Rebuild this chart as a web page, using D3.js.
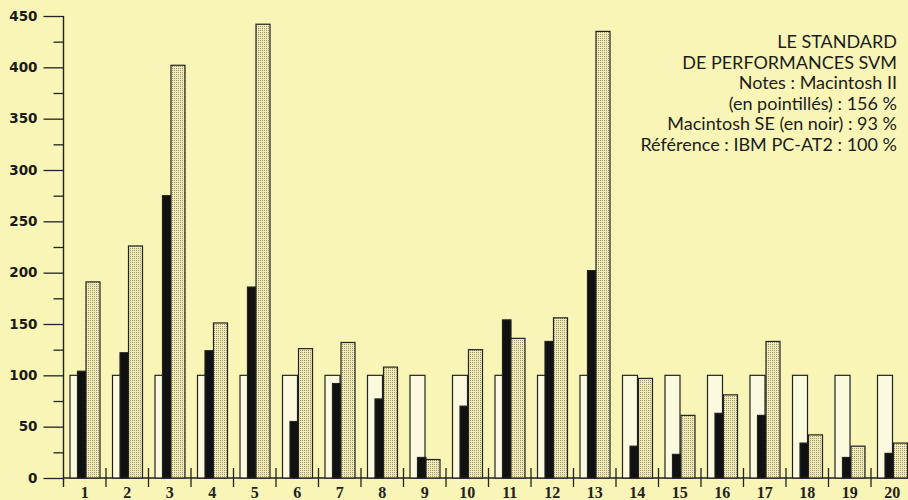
<!DOCTYPE html>
<html>
<head>
<meta charset="utf-8">
<script src="https://cdn.jsdelivr.net/npm/d3@7"></script>
<style>
  body { margin: 0; background: #f8f5b6; }
  svg { display: block; }
</style>
</head>
<body>
<div id="chart"></div>
<script>
const tests = d3.range(1, 21);
const reference = [100, 100, 100, 100, 100, 100, 100, 100, 100, 100, 100, 100, 100, 100, 100, 100, 100, 100, 100, 100];
const macSE = [104, 122, 275, 124, 186, 55, 92, 77, 20, 70, 154, 133, 202, 31, 23, 63, 61, 34, 20, 24];
const macII = [191, 226, 402, 151, 442, 126, 132, 108, 18, 125, 136, 156, 435, 97, 61, 81, 133, 42, 31, 34];
const yTicks = [0, 50, 100, 150, 200, 250, 300, 350, 400, 450];
const notes = [
  'LE STANDARD',
  'DE PERFORMANCES SVM',
  'Notes : Macintosh II',
  '(en pointillés) : 156 %',
  'Macintosh SE (en noir) : 93 %',
  'Référence : IBM PC-AT2 : 100 %'
];

const width = 908;
const height = 500;

const svg = d3.select('#chart')
              .append('svg')
              .attr('width', width)
              .attr('height', height);

svg.append('rect')
   .attr('width', width)
   .attr('height', height)
   .attr('fill', '#f8f5b6');

// dotted fill for the Macintosh II bars
const pat = svg.append('defs')
               .append('pattern')
               .attr('id', 'dots')
               .attr('width', 2)
               .attr('height', 2)
               .attr('patternUnits', 'userSpaceOnUse');
pat.append('rect').attr('width', 2).attr('height', 2).attr('fill', '#f1ecb6');
pat.append('rect').attr('width', 1).attr('height', 1).attr('fill', '#9c9370');

const xScale = d3.scaleBand()
                 .domain(tests)
                 .range([63.5, 913.5])
                 .padding(0);

const yScale = d3.scaleLinear()
                 .domain([0, 450])
                 .range([478, 16]);

const ink = '#222';

// y axis: long ticks every 50, short every 25
const yAxis = d3.axisLeft(yScale)
                .tickValues(yTicks)
                .tickSize(20)
                .tickPadding(6)
                .tickFormat(d3.format('d'));

const gy = svg.append('g')
              .attr('transform', 'translate(63.5, 0)')
              .call(yAxis);
gy.select('.domain').remove();
gy.selectAll('.tick line').attr('stroke', ink).attr('stroke-width', 1.3);
gy.selectAll('.tick text')
  .attr('fill', '#1a1a1a')
  .attr('font-family', 'DejaVu Sans')
  .attr('font-weight', 'bold')
  .attr('font-size', 13.5);

const yMinor = d3.axisLeft(yScale)
                 .tickValues(d3.range(25, 450, 50))
                 .tickSize(10)
                 .tickFormat('');
const gm = svg.append('g')
              .attr('transform', 'translate(63.5, 0)')
              .call(yMinor);
gm.select('.domain').remove();
gm.selectAll('.tick line').attr('stroke', ink).attr('stroke-width', 1.3);

svg.append('line')
   .attr('x1', 63.5).attr('x2', 63.5)
   .attr('y1', yScale(450)).attr('y2', 487)
   .attr('stroke', ink).attr('stroke-width', 1.4);

svg.append('line')
   .attr('x1', 63.5).attr('x2', width)
   .attr('y1', yScale(0)).attr('y2', yScale(0))
   .attr('stroke', ink).attr('stroke-width', 1.4);

// separators between groups
svg.selectAll('.sep')
   .data(tests.slice(1))
   .enter()
   .append('line')
   .attr('class', 'sep')
   .attr('x1', d => xScale(d)).attr('x2', d => xScale(d))
   .attr('y1', 468).attr('y2', 487)
   .attr('stroke', ink).attr('stroke-width', 1.3);

// group labels
svg.selectAll('.xlab')
   .data(tests)
   .enter()
   .append('text')
   .attr('class', 'xlab')
   .attr('x', d => xScale(d) + xScale.bandwidth() / 2)
   .attr('y', 498)
   .attr('text-anchor', 'middle')
   .attr('font-family', 'Liberation Serif')
   .attr('font-weight', 'bold')
   .attr('font-size', 16)
   .attr('fill', ink)
   .text(d => d);

// bars
const series = [
  { values: reference, off: 6.5, w: 15, fill: '#fcfade' },
  { values: macSE, off: 14, w: 8.5, fill: '#111' },
  { values: macII, off: 22.5, w: 14, fill: 'url(#dots)' }
];

series.forEach(s => {
  svg.append('g')
     .selectAll('rect')
     .data(tests)
     .enter()
     .append('rect')
     .attr('x', d => xScale(d) + s.off)
     .attr('y', (d, i) => yScale(s.values[i]))
     .attr('width', s.w)
     .attr('height', (d, i) => yScale(0) - yScale(s.values[i]))
     .attr('fill', s.fill)
     .attr('stroke', ink)
     .attr('stroke-width', 1.2);
});

// notes block
svg.append('g')
   .selectAll('text')
   .data(notes)
   .enter()
   .append('text')
   .attr('x', 897)
   .attr('y', (d, i) => 48 + i * 20.6)
   .attr('text-anchor', 'end')
   .attr('font-family', 'Lato')
   .attr('font-size', 18)
   .attr('fill', '#1c1c1c')
   .text(d => d);
</script>
</body>
</html>
